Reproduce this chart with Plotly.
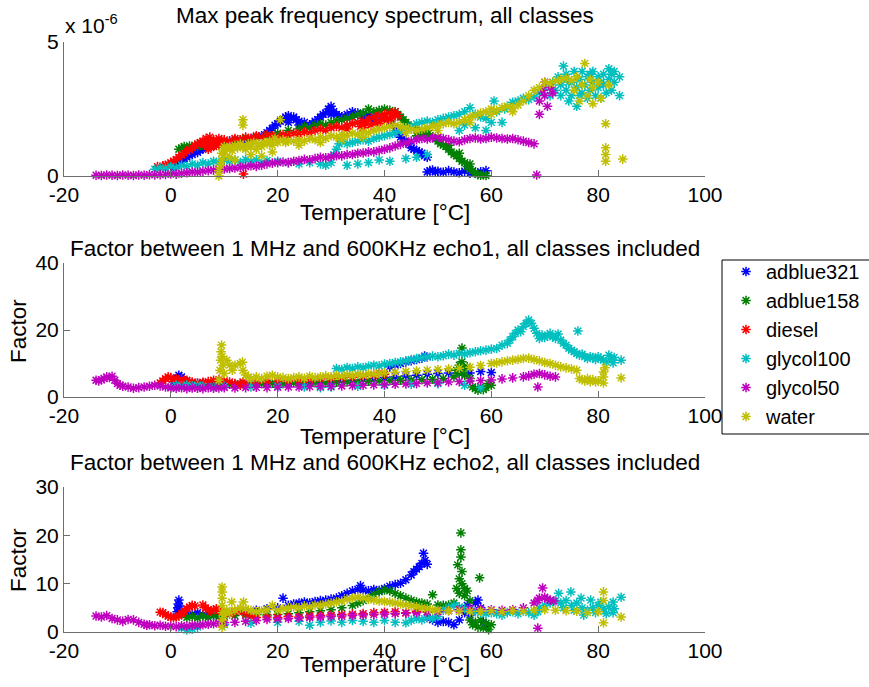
import plotly.graph_objects as go

# ---------------- categories / styling lists ----------------
SERIES = ["adblue321", "adblue158", "diesel", "glycol100", "glycol50", "water"]
COLORS = ["#0000ff", "#008000", "#ff0000", "#00bfbf", "#bf00bf", "#bfbf00"]
X_TICKS = [-20, 0, 20, 40, 60, 80, 100]
Y1_TICKS = [0, 5]
Y2_TICKS = [0, 20, 40]
Y3_TICKS = [0, 10, 20, 30]
TITLES = ["Max peak frequency spectrum, all classes",
          "Factor between 1 MHz and 600KHz echo1, all classes included",
          "Factor between 1 MHz and 600KHz echo2, all classes included"]
X_LABEL = "Temperature [°C]"
Y_LABEL = "Factor"

# ---------------- panel 1: max peak frequency (x 1e-6) ----------------
P1_ADBLUE321 = [(0.5,0.3),(1,0.38),(1.5,0.5),(2,0.52),(2.5,0.65),(3,0.7),(3.5,0.78),(4,0.8),(4.5,0.9),(5,0.88),(5.5,0.98),(6,1.0),(6.5,1.08),(7,1.1),(8,1.2),(9,1.15),(10,1.25),(11,1.3),(12,1.28),(13,1.35),(14,1.32),(15,1.4),(16,1.45),(17,1.5),(18,1.62),(18.5,1.7),(19,1.78),(19.5,1.9),(20,1.95),(20.5,2.05),(21,2.1),(21.5,2.2),(22,2.25),(22.5,2.15),(23,2.2),(23.5,2.1),(24,2.05),(25,2.0),(26,1.9),(26.5,1.95),(27,2.05),(27.5,2.1),(28,2.2),(28.5,2.3),(29,2.35),(29.5,2.5),(30,2.6),(30.5,2.4),(31,2.3),(31.5,2.25),(32,2.2),(33,2.3),(34,2.4),(35,2.35),(36,2.3),(37,2.28),(38,2.2),(39,2.25),(40,2.15),(41,2.05),(41.5,1.95),(42,1.8),(42.5,1.6),(43,1.45),(43.5,1.4),(44,1.3),(44.5,1.2),(45,1.05),(45.5,1.0),(46,0.95),(46.5,0.9),(47,0.85),(47.5,0.75),(48,0.7),(48,0.15),(48.5,0.2),(49,0.22),(49.5,0.15),(50,0.18),(51,0.14),(52,0.2),(53,0.15),(54,0.12),(55,0.18),(56,0.1),(57,0.12),(58,0.16),(59,0.2),(22,2.0),(24,1.9),(30,2.3),(34,2.2),(36,2.15),(38,2.05)]
P1_ADBLUE158 = [(1.5,1.0),(2,1.05),(2.5,1.1),(3,1.02),(3.5,1.12),(4,1.08),(4.5,1.15),(5,1.1),(5.5,1.2),(6,1.15),(7,1.25),(8,1.2),(10,1.3),(12,1.35),(14,1.4),(16,1.45),(18,1.5),(20,1.6),(22,1.7),(24,1.75),(25,1.85),(26,1.8),(27,1.9),(28,1.95),(29,1.9),(30,2.0),(31,2.05),(32,2.1),(33,2.15),(34,2.2),(35,2.3),(36,2.35),(37,2.5),(38,2.4),(39,2.45),(40,2.5),(41,2.45),(42,2.4),(42.5,2.3),(43,2.2),(43.5,2.1),(44,2.0),(44.5,1.9),(45,1.85),(45.5,1.8),(46,1.72),(46.5,1.65),(47,1.6),(47.5,1.58),(48,1.55),(48.5,1.5),(49,1.45),(49.5,1.4),(50,1.3),(50.5,1.2),(51,1.15),(51.5,1.1),(52,1.0),(52.5,0.9),(53,0.8),(53.5,0.75),(54,0.65),(54.5,0.55),(55,0.5),(55.5,0.35),(56,0.25),(56.5,0.2),(57,0.1),(57.5,0.05),(58,0.03),(58.5,0.05),(59,0.02),(46,1.5),(48,1.7),(50,1.45),(52,1.15),(54,0.85),(56,0.45)]
P1_DIESEL = [(-2.5,0.35),(-2,0.3),(-1.5,0.38),(-1,0.4),(-0.5,0.42),(0,0.5),(0.5,0.55),(1,0.62),(1.5,0.7),(2,0.78),(2.5,0.85),(3,0.92),(3.5,0.98),(4,1.05),(4.5,1.12),(5,1.2),(5.5,1.25),(6,1.3),(6.3,1.15),(6.6,1.4),(7,1.25),(7.3,1.45),(7.6,1.1),(8,1.35),(8.5,1.2),(9,1.4),(9.5,1.3),(10,1.35),(11,1.3),(12,1.4),(13,1.35),(13.6,0.07),(14,1.45),(15,1.4),(16,1.5),(17,1.45),(18,1.55),(19,1.5),(20,1.45),(21,1.55),(22,1.5),(23,1.6),(24,1.55),(25,1.65),(26,1.6),(27,1.7),(28,1.75),(29,1.7),(30,1.8),(31,1.85),(32,1.8),(33,1.9),(34,1.95),(35,2.0),(35.5,1.85),(36,2.05),(36.5,1.95),(37,2.1),(37.5,1.9),(38,2.2),(38.5,2.0),(39,2.25),(39.5,2.1),(40,2.3),(40.5,2.15),(41,2.35),(41.5,2.2),(42,2.4),(42.5,2.25),(7,1.0),(8,1.1),(9,1.15),(33,1.75),(36,1.8),(39,1.95),(41,2.05)]
P1_GLYCOL100 = [(-3,0.25),(-2,0.3),(-1,0.28),(0,0.35),(1,0.3),(2,0.4),(3,0.35),(4,0.45),(5,0.4),(6,0.5),(7,0.45),(8,0.55),(9,0.5),(10,0.6),(11,0.55),(12,0.6),(13,0.5),(14,0.62),(15,0.55),(16,0.6),(17,0.5),(18,0.58),(20,0.55),(22,0.5),(24,0.45),(26,0.5),(28,0.45),(29,0.4),(30,0.5),(30.5,0.8),(31,1.0),(31.5,1.2),(32,1.3),(33,1.2),(34,1.25),(35,1.3),(36,1.35),(37,1.3),(38,1.4),(39,1.45),(40,1.5),(41,1.55),(42,1.6),(43,1.7),(44,1.8),(45,1.85),(46,1.95),(47,2.0),(48,2.05),(49,2.0),(50,2.1),(51,2.15),(52,2.2),(53,2.25),(54,2.3),(55,2.4),(56,2.55),(57,2.3),(58,2.2),(59,2.15),(60,2.0),(60.5,2.8),(61,2.4),(62,2.0),(62.5,2.5),(63,2.6),(64,2.75),(65,2.8),(66,2.9),(67,2.85),(68,2.95),(69,3.1),(70,3.3),(71,3.0),(71.5,3.5),(72,3.2),(72.5,3.7),(73,3.0),(73,3.4),(73.5,4.1),(74,3.8),(74,3.2),(74.5,2.8),(75,3.5),(75,3.0),(75.5,3.9),(76,3.3),(76,2.6),(76.5,3.6),(77,3.1),(77,3.9),(77.5,3.4),(78,2.9),(78,3.7),(78.5,3.2),(79,3.5),(79,3.9),(79.5,3.0),(80,3.7),(80,3.3),(80.5,2.9),(81,3.8),(81,3.4),(81.5,3.1),(82,4.0),(82,3.6),(82.5,3.2),(83,3.9),(83,3.5),(84,3.7),(84,3.0),(33,0.4),(35,0.45),(37,0.5),(39,0.6),(41,0.55),(44,0.65),(46,0.7),(48,0.8),(54,1.7),(55,1.9),(57,1.8),(59,1.7),(73.5,3.6),(74.5,3.5),(76.5,3.0),(78.5,3.8),(80.5,3.5),(82.5,3.8)]
P1_GLYCOL50 = [(-14,0.03),(-13,0.02),(-12,0.04),(-11,0.03),(-10,0.02),(-9,0.04),(-8,0.03),(-7,0.02),(-6,0.04),(-5,0.03),(-4,0.05),(-3,0.04),(-2,0.05),(-1,0.06),(0,0.08),(1,0.07),(2,0.1),(3,0.12),(4,0.15),(5,0.14),(6,0.18),(7,0.2),(8,0.22),(9,0.24),(10,0.26),(11,0.28),(12,0.3),(13,0.32),(14,0.35),(15,0.38),(16,0.36),(17,0.4),(18,0.45),(19,0.48),(20,0.5),(21,0.52),(22,0.5),(23,0.55),(24,0.58),(25,0.62),(26,0.6),(27,0.65),(28,0.7),(29,0.68),(30,0.72),(31,0.76),(32,0.75),(33,0.8),(34,0.8),(35,0.85),(36,0.86),(37,0.9),(38,0.9),(39,0.95),(40,1.0),(41,1.05),(42,1.12),(43,1.18),(44,1.24),(45,1.3),(46,1.35),(47,1.4),(48,1.38),(49,1.42),(50,1.45),(51,1.4),(52,1.35),(53,1.3),(54,1.28),(55,1.35),(56,1.4),(57,1.42),(58,1.38),(59,1.4),(60,1.45),(61,1.42),(62,1.4),(63,1.38),(64,1.4),(65,1.35),(66,1.3),(67,1.25),(68,1.2),(68.5,0.04),(69,2.3),(69,2.8),(69.5,3.2),(70,3.5),(70,3.0),(70.5,2.6),(71,3.3),(71.5,3.1)]
P1_WATER = [(9,0.0),(9,0.2),(9.3,0.4),(9.5,0.6),(9.5,0.85),(9.8,1.0),(10,0.8),(10,1.1),(10.5,1.0),(11,1.1),(11,0.7),(11.5,0.95),(12,1.15),(12,0.6),(12.5,1.05),(13,1.2),(13.5,1.9),(13.5,2.1),(13.5,1.1),(14,1.0),(14.5,1.2),(15,1.1),(15,0.8),(15.5,1.25),(16,1.0),(16.5,1.2),(17,1.1),(17,0.75),(17.5,1.25),(18,1.2),(18.5,1.3),(19,1.15),(19,0.9),(19.5,1.4),(20,1.25),(20.5,2.1),(21,1.35),(21.5,1.25),(22,1.3),(23,1.3),(24,1.35),(25,1.3),(26,1.4),(27,1.35),(28,1.45),(29,1.4),(30,1.5),(31,1.45),(32,1.55),(33,1.5),(34,1.6),(35,1.55),(36,1.65),(37,1.6),(38,1.7),(39,1.75),(40,1.8),(41,1.85),(42,1.9),(43,1.85),(44,1.8),(45,1.75),(46,1.7),(47,1.75),(48,1.8),(49,1.85),(50,1.9),(51,1.95),(52,2.0),(53,1.95),(54,2.0),(55,2.1),(56,2.2),(57,2.25),(58,2.35),(59,2.4),(60,2.5),(61,2.45),(62,2.55),(63,2.6),(64,2.55),(65,2.65),(66,2.8),(67,3.0),(68,3.2),(69,3.3),(70,3.5),(71,3.45),(72,3.55),(73,3.6),(74,3.65),(75,3.55),(75.5,3.2),(76,3.7),(76.5,2.8),(77,3.4),(77.5,4.2),(78,3.0),(78.5,3.6),(79,2.7),(79,3.3),(80,3.5),(80.5,2.9),(81.4,0.55),(81.4,0.8),(81.4,1.05),(81.4,1.95),(82,3.4),(84.6,0.63),(24,1.15),(28,1.25),(32,1.35),(36,1.45),(44,1.6),(50,1.7),(56,2.0),(60,2.3),(64,2.4)]

# ---------------- panel 2: factor echo1 ----------------
P2_ADBLUE321 = [(0.5,4.5),(1,5.5),(1.5,6.5),(2,6.0),(2.5,5.0),(3,4.5),(4,4.2),(5,4.0),(6,4.2),(7,4.0),(8,3.8),(10,4.0),(12,3.8),(14,4.0),(16,3.9),(18,4.0),(20,4.1),(22,4.0),(24,4.2),(26,4.3),(28,4.5),(30,4.6),(32,4.8),(34,5.0),(36,5.2),(38,5.5),(40,5.8),(41,9.0),(42,9.5),(43,10.0),(44,10.5),(45,10.8),(46,11.2),(47,11.6),(47.5,12.2),(48,12.0),(42,6.0),(44,6.3),(46,6.5),(48,6.8),(50,7.0),(52,7.2),(54,7.5),(56,7.2),(58,7.6),(60,7.3)]
P2_ADBLUE158 = [(1,3.5),(3,3.8),(5,3.6),(7,3.9),(9,3.7),(11,3.8),(13,4.0),(15,3.9),(17,4.0),(19,4.1),(21,4.0),(23,4.2),(25,4.1),(27,4.3),(29,4.2),(31,4.4),(33,4.5),(35,4.6),(37,4.7),(39,4.8),(41,4.9),(43,5.0),(45,5.1),(47,5.2),(49,5.3),(51,5.5),(53,6.0),(53.5,8.0),(54,9.5),(54,7.0),(54.5,14.6),(54.5,10.5),(55,8.5),(55,6.5),(55.5,9.0),(56,5.5),(56.5,3.0),(57,2.5),(57.5,2.0),(58,3.0),(58.5,2.2),(59,2.8),(59.5,4.0),(60,3.5)]
P2_DIESEL = [(-2,4.2),(-1.5,4.8),(-1,5.5),(-0.5,6.0),(0,5.8),(0.5,5.2),(1,5.5),(1.5,5.0),(2,5.3),(2.5,4.8),(3,5.0),(4,4.5),(5,4.2),(6,4.4),(7,4.6),(8,5.0),(9,5.2),(10,4.8),(11,4.5),(12,4.0),(13,3.5),(13.5,4.5),(14,4.0),(16,4.2),(18,4.5),(20,4.6),(22,4.8),(24,5.0),(26,5.2),(28,5.4),(30,5.5),(32,5.7),(34,5.9),(36,6.2),(38,6.5),(39,7.2),(40,6.8)]
P2_GLYCOL100 = [(0,3.0),(1,3.5),(2,3.2),(3,3.6),(4,3.3),(5,3.5),(6,3.2),(8,3.0),(10,3.2),(15,3.0),(20,3.2),(25,3.0),(28,2.8),(30,3.0),(31,8.5),(32,8.2),(33,8.8),(34,8.5),(35,9.0),(36,8.8),(37,9.2),(38,9.5),(39,9.3),(40,9.8),(41,10.0),(42,10.3),(43,10.5),(44,10.8),(45,11.2),(46,11.5),(47,11.8),(48,12.0),(49,12.2),(50,12.0),(51,12.3),(52,12.8),(53,12.5),(54,13.0),(55,12.8),(56,13.2),(57,13.5),(58,13.8),(59,14.0),(60,14.3),(61,14.5),(62,15.5),(63,16.0),(63.5,17.0),(64,18.0),(64.5,19.0),(65,20.0),(65.5,19.5),(66,21.0),(66.5,22.0),(67,23.0),(67.5,22.0),(68,20.5),(68.5,19.0),(69,17.5),(69.5,18.5),(70,17.8),(70.5,18.2),(71,19.0),(71.5,18.0),(72,17.5),(72.5,18.8),(73,17.0),(73.5,16.0),(74,15.5),(74.5,14.5),(75,14.0),(75.5,13.5),(76,13.0),(76.2,19.7),(76.5,12.5),(77,12.8),(77.5,12.0),(78,11.5),(78.5,12.0),(79,11.8),(79.5,11.2),(80,12.0),(80.5,11.5),(81,11.0),(81.5,10.5),(82,12.5),(82.5,11.5),(82.8,10.2),(83,11.8),(84.3,11.0),(35,3.2),(40,3.5),(45,3.8),(50,4.0),(55,3.5),(58,2.8)]
P2_GLYCOL50 = [(-14,5.0),(-13.5,4.8),(-13,5.2),(-12.5,5.5),(-12,6.0),(-11.5,5.8),(-11,6.2),(-10.5,5.0),(-10,4.0),(-9.5,3.5),(-9,3.2),(-8,3.0),(-7,2.6),(-6,2.8),(-5,3.0),(-4,3.2),(-3,3.5),(-2,3.3),(-1,3.0),(0,2.7),(1,2.6),(2,2.8),(3,2.5),(4,2.7),(5,2.6),(6,2.5),(7,2.8),(8,2.6),(9,2.7),(10,2.8),(12,2.7),(14,2.8),(16,2.9),(18,2.8),(20,2.9),(22,3.0),(24,3.0),(26,3.1),(28,3.2),(30,3.2),(32,3.3),(34,3.4),(36,3.5),(38,3.6),(40,3.7),(42,3.8),(44,3.9),(46,4.0),(48,4.2),(50,4.3),(52,4.5),(54,4.6),(56,4.8),(58,4.9),(60,5.1),(62,5.4),(64,5.7),(66,6.0),(67,6.3),(68,6.8),(68.7,3.0),(69,7.0),(70,6.6),(71,6.2),(72,6.0)]
P2_WATER = [(9,5.0),(9.2,8.0),(9.3,11.0),(9.4,13.5),(9.5,15.5),(9.6,12.0),(9.8,9.5),(10,7.0),(10.5,11.0),(11,9.5),(11.5,8.0),(12,9.5),(13,10.0),(13.4,10.4),(13.5,8.0),(14,6.6),(14.5,6.0),(15,5.5),(16,6.0),(17,5.5),(18,6.2),(19,6.5),(20,6.0),(21,5.8),(22,5.5),(23,5.8),(24,6.0),(25,5.6),(26,6.2),(27,5.8),(28,6.0),(29,6.3),(30,6.0),(31,6.5),(32,6.2),(33,6.6),(34,6.3),(35,6.8),(36,6.5),(37,6.9),(38,6.8),(39,7.0),(40,7.2),(42,7.4),(44,7.6),(46,7.8),(48,8.0),(50,8.2),(52,8.4),(54,8.6),(56,8.9),(58,9.4),(60,10.0),(61,10.2),(62,10.5),(63,10.8),(64,11.0),(65,11.2),(66,11.5),(67,11.6),(68,11.2),(69,10.8),(70,10.3),(71,10.0),(72,9.5),(73,9.0),(74,8.7),(75,8.4),(76,8.0),(76.5,5.5),(77,5.2),(77.5,4.8),(78,5.5),(78.5,4.6),(79,5.2),(79.5,4.5),(80,4.8),(81,4.2),(81,6.0),(81,7.5),(81.3,8.7),(84.3,5.7)]

# ---------------- panel 3: factor echo2 ----------------
P3_ADBLUE321 = [(1.2,4.2),(1.3,5.0),(1.4,5.8),(1.5,6.6),(1.6,5.4),(2,4.0),(3,3.8),(4,3.7),(5,4.0),(6,3.6),(7,3.9),(8,3.5),(9,3.8),(10,3.6),(12,4.0),(14,4.2),(16,4.5),(18,4.8),(20,5.0),(21,7.0),(22,5.5),(23,5.8),(24,6.0),(25,6.2),(26,6.0),(27,6.3),(28,6.5),(29,6.6),(30,6.8),(31,7.0),(32,7.5),(33,8.0),(34,8.5),(35,8.8),(35.5,9.6),(36,8.7),(37,8.5),(38,8.8),(39,8.6),(40,9.0),(41,9.5),(42,9.8),(43,10.1),(44,10.8),(45,11.8),(45.5,12.5),(46,13.0),(46.5,13.5),(47,14.2),(47.3,16.3),(47.6,14.8),(48,14.0),(48,3.0),(49,2.5),(50,2.0),(51,2.2),(52,2.0),(53,1.5),(54,2.5),(55,4.0),(55.5,5.5),(56,3.5),(57,6.0),(57.5,6.6),(58,5.0),(58.5,2.0),(59,1.2)]
P3_ADBLUE158 = [(3,3.0),(4,3.2),(5,2.9),(6,3.3),(7,3.0),(8,3.4),(9,3.1),(10,3.3),(12,3.4),(14,3.5),(16,3.6),(18,3.5),(20,3.6),(22,3.8),(24,4.0),(26,4.2),(28,4.4),(30,4.6),(32,5.0),(34,5.5),(35,6.0),(36,6.5),(37,7.0),(38,7.8),(39,8.3),(40,8.7),(41,8.5),(42,8.0),(43,7.5),(44,7.0),(45,6.6),(46,6.2),(47,6.0),(48,5.8),(49,7.7),(50,5.6),(51,5.5),(52,5.6),(53,6.0),(53.5,9.0),(53.7,13.9),(54,11.0),(54,8.0),(54.3,20.5),(54.3,17.0),(54.3,15.5),(54.5,12.5),(54.5,10.0),(55,9.0),(55,7.5),(55.5,8.5),(56,6.5),(56,2.5),(56.5,1.5),(57,2.0),(57.5,1.0),(57.8,11.2),(58,2.5),(58.5,0.8),(59,1.8),(59.5,0.5),(60,1.5)]
P3_DIESEL = [(-2,4.1),(-1.5,4.0),(-1,3.6),(-0.5,3.3),(0,3.1),(0.5,3.0),(1,3.1),(1.5,3.3),(2,3.8),(2.5,4.3),(3,4.8),(3.5,5.2),(4,5.5),(4.5,5.4),(6,5.6),(6.5,5.0),(7,4.6),(7.5,4.3),(8,4.6),(8.5,4.8),(9,4.5),(10,4.0),(11,3.8),(12,4.2),(13,4.5),(14,3.8),(15,3.2),(16,3.0),(18,3.1),(20,3.0),(22,3.2),(24,3.1),(26,3.3),(28,3.4),(30,3.5),(32,3.6),(34,3.7),(36,3.8),(38,4.0),(40,4.1),(42,4.2),(44,4.0),(46,4.3),(48,4.2)]
P3_GLYCOL100 = [(2,0.8),(3,0.4),(4,0.6),(5,1.0),(10,1.5),(15,1.8),(20,2.0),(24,2.2),(26,1.4),(28,2.0),(30,2.3),(32,2.0),(34,2.4),(36,2.2),(38,2.0),(40,2.4),(42,2.0),(44,1.9),(45,2.4),(46,2.8),(47,2.5),(48,3.0),(49,2.8),(50,3.2),(51,4.5),(52,5.0),(53,5.5),(54,5.2),(55,4.8),(56,4.5),(57,4.2),(58,4.0),(59,3.8),(60,4.0),(61,3.8),(62,3.5),(63,4.0),(64,4.2),(65,3.8),(66,4.4),(67,4.0),(68,3.5),(68.7,4.2),(69,5.0),(70,5.5),(71,6.0),(72,6.5),(72.6,8.0),(73,6.0),(73.5,5.0),(74,6.5),(74.9,8.3),(75,5.5),(75.5,4.5),(76,6.0),(76.8,7.0),(77,5.0),(77.3,3.5),(78,4.5),(78.6,6.6),(79,5.0),(79.5,4.0),(80,5.5),(80.5,6.2),(81,4.8),(81.5,3.8),(82,5.2),(82.8,6.2),(82.8,4.0),(83,4.8),(84.3,7.2)]
P3_GLYCOL50 = [(-14,3.3),(-13,3.1),(-12,3.4),(-11,2.8),(-10,2.5),(-9,2.2),(-8,2.6),(-7,2.5),(-6,2.0),(-5,1.6),(-4.5,1.4),(-4,1.5),(-3,1.3),(-2,1.4),(-1,1.2),(0,1.2),(1,1.1),(2,1.3),(3,1.2),(4,1.4),(5,1.4),(6,1.5),(7,1.6),(8,1.7),(9,1.8),(10,1.9),(12,2.0),(14,2.2),(16,2.4),(18,2.6),(20,2.7),(22,2.8),(24,2.9),(26,3.0),(28,3.1),(30,3.2),(32,3.3),(34,3.4),(36,3.5),(38,3.6),(40,3.7),(42,3.8),(44,3.9),(46,4.0),(48,4.1),(50,4.2),(52,4.4),(54,4.6),(56,4.8),(58,4.7),(60,4.6),(62,4.5),(64,4.6),(66,5.0),(68,6.0),(68.7,6.6),(68.7,0.8),(69,7.0),(69.6,9.1),(70,7.2),(70.5,6.8),(71,6.6),(71.7,6.4)]
P3_WATER = [(9.6,1.0),(9.6,2.5),(9.6,4.0),(9.6,5.5),(9.6,7.0),(9.6,8.3),(9.6,9.3),(10,3.5),(10.5,4.5),(11,4.0),(11.4,6.2),(12,4.5),(13,5.0),(13.6,6.2),(14,4.8),(15,4.5),(16,4.2),(17,4.4),(18,4.6),(19,5.5),(20,4.5),(21,4.8),(22,5.0),(23,5.2),(24,5.0),(25,5.4),(26,5.2),(27,5.6),(28,5.5),(29,5.8),(30,6.0),(31,6.2),(32,6.4),(33,6.8),(34,7.0),(35,7.2),(36,7.0),(37,6.8),(38,6.6),(39,6.4),(40,6.3),(41,6.2),(42,6.0),(43,5.8),(44,5.6),(45,5.4),(46,5.2),(47,5.0),(48,4.8),(49,4.6),(50,4.5),(52,4.4),(54,4.3),(56,4.2),(58,4.3),(60,4.4),(62,4.2),(64,4.4),(66,4.3),(68,4.5),(70,4.6),(72,4.5),(74,4.4),(76,4.3),(78,4.0),(80,4.2),(81,8.3),(81,6.5),(81,1.9),(84.3,3.1)]

PANEL1 = [P1_ADBLUE321, P1_ADBLUE158, P1_DIESEL, P1_GLYCOL100, P1_GLYCOL50, P1_WATER]
PANEL2 = [P2_ADBLUE321, P2_ADBLUE158, P2_DIESEL, P2_GLYCOL100, P2_GLYCOL50, P2_WATER]
PANEL3 = [P3_ADBLUE321, P3_ADBLUE158, P3_DIESEL, P3_GLYCOL100, P3_GLYCOL50, P3_WATER]

# ---------------- figure ----------------
W, H = 869, 687
FONT = "Liberation Sans, Arial, Helvetica, sans-serif"
FS_TICK = 21
FS_LABEL = 22.5
FS_LEG = 20

fig = go.Figure()
for p, panel in enumerate([PANEL1, PANEL2, PANEL3], start=1):
    for name, color, pts in zip(SERIES, COLORS, panel):
        fig.add_trace(go.Scatter(
            x=[a for a, b in pts], y=[b for a, b in pts],
            mode="markers", name=name, legendgroup=name,
            showlegend=(p == 1), cliponaxis=False,
            marker=dict(symbol="asterisk-open", size=8, color=color,
                        line=dict(color=color, width=1.5)),
            xaxis="x" if p == 1 else f"x{p}", yaxis="y" if p == 1 else f"y{p}"))

def px_x(v):
    return v / W

def px_y(v):
    return 1 - v / H

xdom = [px_x(64), px_x(705)]
ydoms = [[px_y(176), px_y(42)], [px_y(397), px_y(263)], [px_y(632), px_y(487)]]
yranges = [[0, 5], [0, 40], [0, 30]]
yticks = [Y1_TICKS, Y2_TICKS, Y3_TICKS]

axis_common = dict(showgrid=False, zeroline=False, showline=True, linecolor="#6e6e6e",
                   linewidth=1, ticks="inside", ticklen=6, tickcolor="#6e6e6e",
                   tickfont=dict(family=FONT, size=FS_TICK, color="#000000"), mirror=False,
                   automargin=False)
lay = {}
for i in range(3):
    xk = "xaxis" if i == 0 else f"xaxis{i+1}"
    yk = "yaxis" if i == 0 else f"yaxis{i+1}"
    ya = "y" if i == 0 else f"y{i+1}"
    xa = "x" if i == 0 else f"x{i+1}"
    lay[xk] = dict(axis_common, domain=xdom, range=[-20, 100], tickmode="array",
                   tickvals=X_TICKS, ticktext=[str(v) for v in X_TICKS], anchor=ya)
    lay[yk] = dict(axis_common, domain=ydoms[i], range=yranges[i], tickmode="array",
                   tickvals=yticks[i], ticktext=[str(v) for v in yticks[i]], anchor=xa)
fig.update_layout(**lay)

ann = []
title_y = [15, 248, 462]
xlab_y = [213, 436, 664]
for i in range(3):
    ann.append(dict(text=TITLES[i], x=px_x(384.5), y=px_y(title_y[i]), xref="paper", yref="paper",
                    xanchor="center", yanchor="middle", showarrow=False,
                    font=dict(family=FONT, size=FS_LABEL, color="#000")))
    ann.append(dict(text=X_LABEL, x=px_x(384.5), y=px_y(xlab_y[i]), xref="paper", yref="paper",
                    xanchor="center", yanchor="middle", showarrow=False,
                    font=dict(family=FONT, size=FS_LABEL, color="#000")))
for yy in [331, 560]:
    ann.append(dict(text=Y_LABEL, x=px_x(18), y=px_y(yy), xref="paper", yref="paper",
                    xanchor="center", yanchor="middle", textangle=-90, showarrow=False,
                    font=dict(family=FONT, size=FS_LABEL, color="#000")))
ann.append(dict(text="x 10<sup>-6</sup>", x=px_x(63), y=px_y(24), xref="paper", yref="paper",
                xanchor="left", yanchor="middle", showarrow=False,
                font=dict(family=FONT, size=FS_TICK, color="#000")))

# legend frame (MATLAB-style box, running off the right edge)
shapes = [dict(type="rect", xref="paper", yref="paper",
               x0=px_x(722), x1=px_x(875), y0=px_y(434), y1=px_y(260),
               line=dict(color="#000", width=1), fillcolor="rgba(0,0,0,0)", layer="below")]

fig.update_layout(
    width=W, height=H, margin=dict(l=0, r=0, t=0, b=0, autoexpand=False),
    paper_bgcolor="white", plot_bgcolor="white",
    annotations=ann, shapes=shapes,
    legend=dict(x=px_x(726), y=px_y(252), xanchor="left", yanchor="top",
                borderwidth=0, bgcolor="rgba(0,0,0,0)",
                font=dict(family=FONT, size=FS_LEG, color="#000"), tracegroupgap=0,
                itemsizing="trace"),
)

fig.write_html("out.html")
